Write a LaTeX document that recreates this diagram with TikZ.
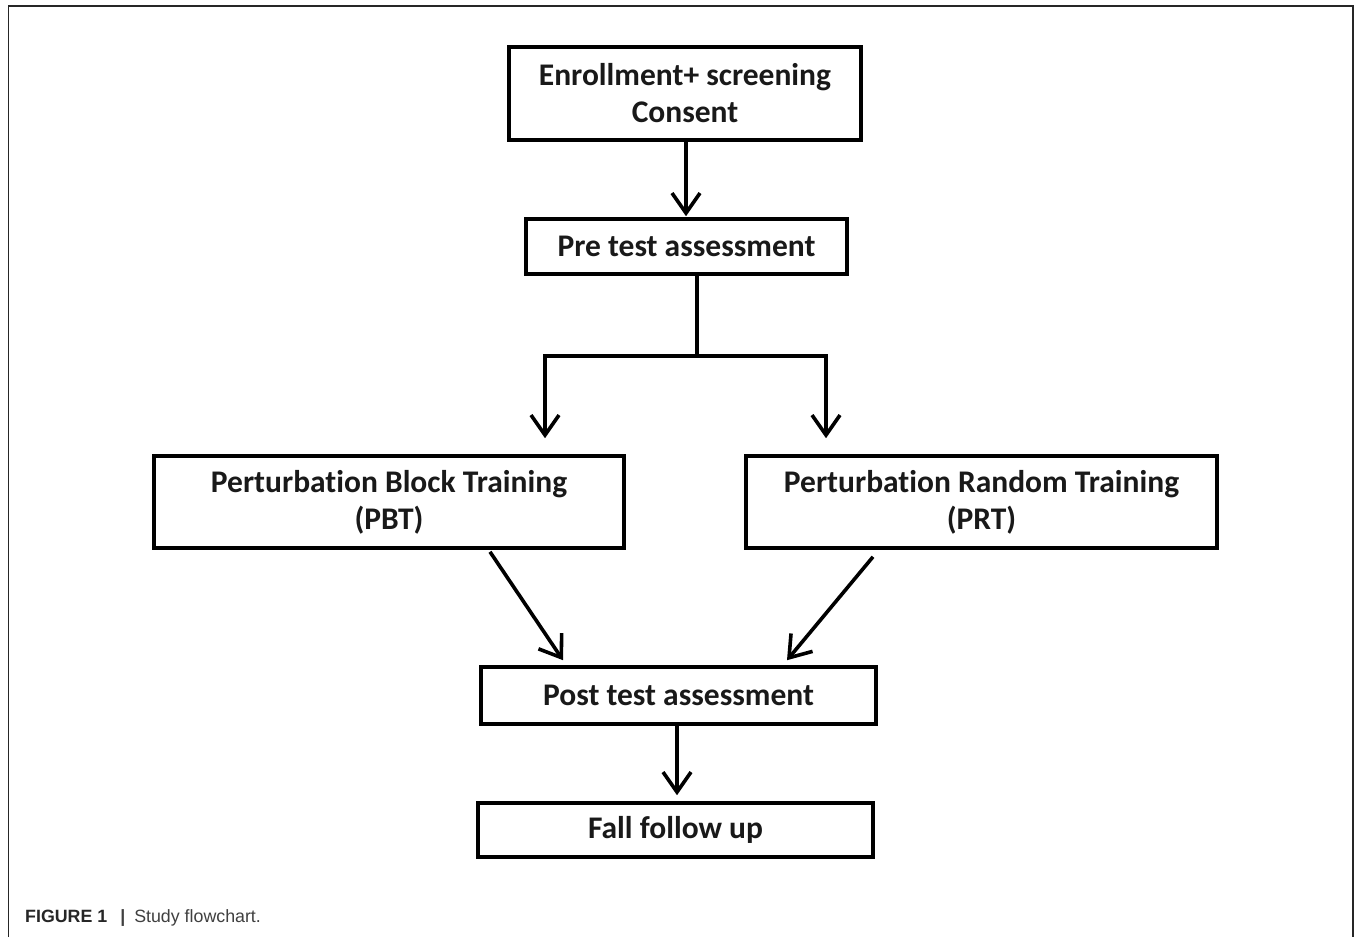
\documentclass[tikz,border=0pt]{standalone}
\usepackage{fontspec}
\setmainfont{Carlito}[Ligatures={NoCommon}]
\newfontfamily\capfont{Liberation Sans}
\usetikzlibrary{arrows.meta}
\begin{document}
\begin{tikzpicture}[x=1pt,y=-1pt,
  box/.style={draw=black, line width=3.6pt, rectangle, inner sep=0pt, align=center,
    font=\fontsize{31.5}{37}\selectfont\bfseries, text=black!90},
  arr/.style={line width=3.6pt, draw=black, -{Straight Barb[length=20pt,width=28pt,line width=3.6pt]}},
  conn/.style={line width=3.6pt, draw=black}]
\useasboundingbox (0,0) rectangle (1356,937);
\fill[white] (0,0) rectangle (1356,937);
\draw[line width=1.4pt, black!85] (8.5,937) -- (8.5,6) -- (1353,6) -- (1353,937);

\node[box, minimum width=352, minimum height=93] (enr) at (685,93.5) {Enrollment+ screening\\Consent};
\node[box, minimum width=321, minimum height=55] (pre) at (686.5,246.5) {Pre test assessment};
\node[box, minimum width=470, minimum height=92] (pbt) at (389,502) {Perturbation Block Training\\(PBT)};
\node[box, minimum width=471, minimum height=92] (prt) at (981.5,502) {Perturbation Random Training\\(PRT)};
\node[box, minimum width=395, minimum height=57] (post) at (678.5,695.5) {Post test assessment};
\node[box, minimum width=395, minimum height=54] (fall) at (675.5,830) {Fall follow up};

\coordinate (c1) at (686,0);
\coordinate (split) at (697,356);
\coordinate (lx) at (545,0);
\coordinate (rx) at (826,0);
\coordinate (c2) at (677,0);

\draw[arr, shorten >=1pt] (enr.south -| c1) -- (pre.north -| c1);
\draw[conn] (pre.south -| split) -- (split);
\draw[arr, shorten >=16pt] (split) -| (pbt.north -| lx);
\draw[arr, shorten >=16pt] (split) -| (prt.north -| rx);
\draw[arr] ([xshift=101,yshift=-2]pbt.south) -- ([xshift=-115.5,yshift=5]post.north);
\draw[arr] ([xshift=-108.5,yshift=-7]prt.south) -- ([xshift=108.5,yshift=5]post.north);
\draw[arr, shorten >=6pt] (post.south -| c2) -- (fall.north -| c2);

\node[anchor=base west, inner sep=0pt, font=\capfont\fontsize{17.8}{20}\selectfont, text=black!75] (cap) at (25,922)
  {\textbf{\color{black!85}FIGURE 1}\hspace{13pt}{\bfseries|}\hspace{9pt}Study flowchart.};
\end{tikzpicture}
\end{document}
